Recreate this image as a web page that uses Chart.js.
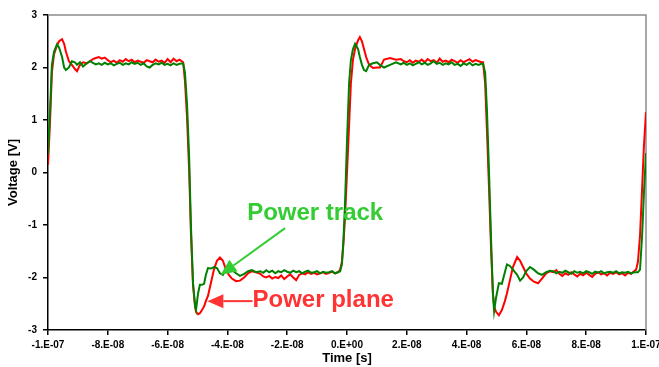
<!DOCTYPE html>
<html>
<head>
<meta charset="utf-8">
<script src="https://cdn.jsdelivr.net/npm/chart.js@4.4.1/dist/chart.umd.min.js"></script>
<style>
  html, body { margin: 0; padding: 0; background: #fff; }
  #wrap { width: 659px; height: 367px; }
</style>
</head>
<body>
<div id="wrap"><canvas id="voltChart"></canvas></div>
<script>
// sample times in ns (axis labels are shown in seconds)
var timeNs = [
  -100, -99.3, -98.7, -98, -97, -96.3, -95.3, -94.6, -94, -93, -92, -91, -90.3, -89.3, -88.3,
  -87, -86, -85, -84, -83, -82, -81, -80, -79, -78, -77, -76, -75, -74, -73, -72,
  -71, -70, -69, -68, -67, -66, -65, -64, -63, -62, -61, -60, -59, -58, -57, -56,
  -54.8, -54.2, -53.5, -52.8, -52.2, -51.5, -50.8, -50.5, -49.8, -49.2, -48.5, -47.8, -47.2, -46.5,
  -45.5, -44.5, -43.5, -42.5, -41.5, -40.5, -39.5, -38.5, -37.1, -35.8, -34.4, -33.1, -31.8, -30.4,
  -29, -28, -27, -26, -25, -24, -23, -22, -21, -20, -19, -18, -17, -16,
  -15, -14, -13, -12, -11, -10, -9, -8, -7, -6, -5, -4, -3,
  -2.3, -1.7, -1.2, -0.7, 0, 0.7, 1.3, 2.0, 2.7, 3.7, 4.3, 5.0, 5.7, 6.4, 7.4, 8.7, 10.0, 11.0, 12.4, 14.4, 16.4,
  18, 19, 20, 21, 22, 23, 24, 25, 26, 27, 28, 29, 30, 31,
  32, 33, 34, 35, 36, 37, 38, 39, 40, 41, 42, 43, 44, 45,
  45.5, 46.2, 46.8, 47.5, 48.2, 48.8, 49.2, 49.8, 50.8, 51.8, 52.8, 53.5,
  54.5, 55.5, 56.9, 57.9, 58.9, 59.9, 61.2, 62.5, 63.9, 65.2, 66.6, 67.9,
  69, 70, 71, 72, 73, 74, 75, 76, 77, 78, 79, 80, 81, 82,
  83, 84, 85, 86, 87, 88, 89, 90, 91, 92, 93, 94, 95, 96,
  96.7, 97.3, 98.0, 98.7, 99.3, 100
];

// "Power plane" (red)
var planeV = [
  0.15, 1.00, 1.90, 2.25, 2.42, 2.50, 2.54, 2.45, 2.30, 2.12, 2.05, 1.97, 1.93, 2.05, 2.10,
  2.08, 2.12, 2.16, 2.18, 2.20, 2.17, 2.19, 2.14, 2.10, 2.13, 2.09, 2.14, 2.11, 2.16, 2.12, 2.15,
  2.10, 2.13, 2.11, 2.09, 2.14, 2.12, 2.10, 2.15, 2.11, 2.13, 2.09, 2.16, 2.10, 2.17, 2.12, 2.15,
  2.10, 1.75, 1.05, 0.05, -1.15, -2.15, -2.55, -2.65, -2.70, -2.68, -2.62, -2.55, -2.45, -2.35,
  -2.10, -1.85, -1.68, -1.62, -1.68, -1.85, -1.95, -2.02, -2.07, -2.06, -2.00, -1.92, -1.88, -1.90,
  -1.93, -1.98, -2.00, -1.97, -2.02, -1.99, -2.01, -1.96, -2.03, -1.98, -1.94, -2.00, -2.05, -1.95,
  -1.92, -1.94, -1.90, -1.93, -1.91, -1.94, -1.92, -1.90, -1.93, -1.91, -1.89, -1.92, -1.90,
  -1.85, -1.70, -1.35, -0.90, 0.00, 0.90, 1.70, 2.15, 2.35, 2.52, 2.58, 2.50, 2.35, 2.20, 2.05, 1.99, 2.00, 2.00, 2.15, 2.18, 2.15,
  2.16, 2.12, 2.10, 2.14, 2.09, 2.13, 2.11, 2.15, 2.10, 2.16, 2.12, 2.14, 2.09, 2.17,
  2.11, 2.13, 2.10, 2.15, 2.12, 2.09, 2.14, 2.10, 2.13, 2.16, 2.11, 2.14, 2.12, 2.10,
  2.10, 1.70, 0.80, -0.30, -1.50, -2.30, -2.55, -2.65, -2.72, -2.62, -2.45, -2.30,
  -2.05, -1.80, -1.61, -1.68, -1.80, -1.92, -2.02, -2.08, -2.11, -2.02, -1.92, -1.88,
  -1.90, -1.86, -1.93, -1.97, -1.92, -1.95, -1.90, -1.94, -1.98, -1.93, -1.96, -1.91, -1.95, -1.99,
  -1.93, -1.90, -1.94, -1.92, -1.96, -1.91, -1.93, -1.90, -1.94, -1.92, -1.96, -1.91, -1.93, -1.88,
  -1.85, -1.70, -1.20, -0.30, 0.50, 1.15
];

// "Power track" (green)
var trackV = [
  0.35, 1.20, 2.05, 2.30, 2.44, 2.38, 2.20, 2.00, 1.95, 2.00, 2.12, 2.10, 2.05, 2.10, 2.02,
  2.08, 2.12, 2.09, 2.06, 2.08, 2.05, 2.09, 2.06, 2.08, 2.04, 2.07, 2.09, 2.05, 2.08, 2.06, 2.10,
  2.07, 2.09, 2.05, 2.08, 2.02, 2.00, 2.05, 2.08, 2.06, 2.09, 2.05, 2.07, 2.04, 2.08, 2.05, 2.07,
  2.08, 1.90, 1.30, 0.30, -1.00, -2.10, -2.55, -2.62, -2.30, -2.14, -2.14, -2.12, -1.95, -1.82,
  -1.83, -1.80, -1.82, -1.92, -1.95, -1.85, -1.88, -1.85, -1.92, -1.97, -1.93, -1.88, -1.86, -1.90,
  -1.88, -1.91, -1.86, -1.90, -1.87, -1.92, -1.88, -1.90, -1.86, -1.89, -1.91, -1.87, -1.90, -1.88,
  -1.92, -1.89, -1.87, -1.91, -1.90, -1.88, -1.92, -1.89, -1.91, -1.90, -1.88, -1.92, -1.90,
  -1.88, -1.75, -1.30, -0.65, 0.60, 1.70, 2.14, 2.35, 2.45, 2.35, 2.20, 2.05, 1.95, 1.93, 2.05, 2.08, 2.10, 2.05, 2.00, 2.05, 2.10,
  2.06, 2.09, 2.05, 2.08, 2.04, 2.07, 2.10, 2.06, 2.09, 2.05, 2.08, 2.12, 2.07, 2.09,
  2.05, 2.08, 2.06, 2.10, 2.05, 2.07, 2.03, 2.08, 2.05, 2.09, 2.04, 2.07, 2.05, 2.07,
  2.07, 1.90, 1.20, 0.00, -1.30, -2.30, -2.64, -2.40, -2.11, -2.12, -1.90, -1.75,
  -1.78, -1.85, -1.95, -2.06, -2.00, -1.88, -1.80, -1.85, -1.92, -1.95, -1.90, -1.87,
  -1.88, -1.92, -1.89, -1.91, -1.87, -1.90, -1.93, -1.88, -1.91, -1.89, -1.92, -1.88, -1.90, -1.93,
  -1.89, -1.91, -1.88, -1.92, -1.90, -1.89, -1.91, -1.88, -1.92, -1.90, -1.91, -1.89, -1.92, -1.90,
  -1.90, -1.90, -1.85, -1.20, -0.40, 0.37
];

var xMinNs = -100, xMaxNs = 100, xStepNs = 20;
var yMin = -3, yMax = 3, yStep = 1;

function toPoints(vals) {
  return timeNs.map(function (t, i) {
    return { x: t, y: vals[i] };
  });
}

// ns -> Excel-like "-8.E-08"
function secLabel(ns) {
  var s = Math.round(ns) * 1e-9;
  if (Math.abs(s) < 1e-15) return "0.E+00";
  var parts = s.toExponential(0).split("e");
  var e = parseInt(parts[1], 10);
  var exp = Math.abs(e) < 10 ? "0" + Math.abs(e) : "" + Math.abs(e);
  return parts[0] + ".E" + (e < 0 ? "-" : "+") + exp;
}

var FONT = "'Liberation Sans', Arial, sans-serif";

// gray frame on top/right of the plot area
var framePlugin = {
  id: "frame",
  beforeDatasetsDraw: function (chart) {
    var a = chart.chartArea, ctx = chart.ctx;
    ctx.save();
    ctx.strokeStyle = "#8c8c8c";
    ctx.lineWidth = 1.5;
    ctx.beginPath();
    ctx.moveTo(a.left, a.top);
    ctx.lineTo(a.right, a.top);
    ctx.lineTo(a.right, a.bottom);
    ctx.stroke();
    ctx.restore();
  }
};

// callouts, positioned in data units (ns, V)
var callouts = [
  { text: "Power track", color: "#33cc33", tx: -33.4, ty: -0.77, from: [-20.7, -1.06], to: [-42.3, -1.95] },
  { text: "Power plane", color: "#ff3333", tx: -31.6, ty: -2.43, from: [-31.6, -2.45], to: [-46.7, -2.45] }
];

var calloutPlugin = {
  id: "callouts",
  afterDatasetsDraw: function (chart) {
    var ctx = chart.ctx, xs = chart.scales.x, ys = chart.scales.y;
    ctx.save();
    callouts.forEach(function (c) {
      var x1 = xs.getPixelForValue(c.from[0]), y1 = ys.getPixelForValue(c.from[1]);
      var x2 = xs.getPixelForValue(c.to[0]), y2 = ys.getPixelForValue(c.to[1]);
      var ang = Math.atan2(y2 - y1, x2 - x1);
      var len = 16, half = 7;
      var bx = x2 - len * Math.cos(ang), by = y2 - len * Math.sin(ang);
      ctx.strokeStyle = c.color;
      ctx.fillStyle = c.color;
      ctx.lineWidth = 2;
      ctx.beginPath();
      ctx.moveTo(x1, y1);
      ctx.lineTo(bx, by);
      ctx.stroke();
      ctx.beginPath();
      ctx.moveTo(x2, y2);
      ctx.lineTo(bx + half * Math.sin(ang), by - half * Math.cos(ang));
      ctx.lineTo(bx - half * Math.sin(ang), by + half * Math.cos(ang));
      ctx.closePath();
      ctx.fill();

      ctx.font = "bold 24px " + FONT;
      ctx.textAlign = "left";
      ctx.textBaseline = "middle";
      ctx.fillText(c.text, xs.getPixelForValue(c.tx), ys.getPixelForValue(c.ty));
    });
    ctx.restore();
  }
};

var ctx = document.getElementById("voltChart");

window.chart = new Chart(ctx, {
  type: "line",
  data: {
    datasets: [
      {
        label: "Power plane",
        data: toPoints(planeV),
        borderColor: "#ff0000",
        borderWidth: 2,
        pointRadius: 0,
        tension: 0,
        order: 1
      },
      {
        label: "Power track",
        data: toPoints(trackV),
        borderColor: "#008000",
        borderWidth: 2,
        pointRadius: 0,
        tension: 0,
        order: 0
      }
    ]
  },
  options: {
    responsive: true,
    maintainAspectRatio: false,
    animation: false,
    layout: { padding: { left: 0, right: 13, top: 15, bottom: 0 } },
    plugins: {
      legend: { display: false },
      tooltip: { enabled: false }
    },
    scales: {
      x: {
        type: "linear",
        min: xMinNs,
        max: xMaxNs,
        afterFit: function (scale) {
          scale.height = 37;
          scale.paddingLeft = 0;
          scale.paddingRight = 0;
        },
        ticks: {
          stepSize: xStepNs,
          autoSkip: false,
          maxRotation: 0,
          padding: 4,
          color: "#000",
          font: { family: FONT, size: 10, weight: "bold" },
          callback: function (v) { return secLabel(v); }
        },
        grid: { drawOnChartArea: false, drawTicks: true, tickLength: 5, color: "#000", lineWidth: 1.5 },
        border: { color: "#000", width: 1.5 },
        title: {
          display: true,
          text: "Time [s]",
          color: "#000",
          font: { family: FONT, size: 13, weight: "bold" },
          padding: { top: 0, bottom: 1 }
        }
      },
      y: {
        min: yMin,
        max: yMax,
        afterFit: function (scale) {
          scale.width = 48;
          scale.paddingTop = 0;
          scale.paddingBottom = 0;
        },
        ticks: {
          stepSize: yStep,
          padding: 6,
          color: "#000",
          font: { family: FONT, size: 10, weight: "bold" }
        },
        grid: { drawOnChartArea: false, drawTicks: true, tickLength: 5, color: "#000", lineWidth: 1.5 },
        border: { color: "#000", width: 1.5 },
        title: {
          display: true,
          text: "Voltage [V]",
          color: "#000",
          font: { family: FONT, size: 13, weight: "bold" },
          padding: { top: 6, bottom: 0 }
        }
      }
    }
  },
  plugins: [framePlugin, calloutPlugin]
});
</script>
</body>
</html>
